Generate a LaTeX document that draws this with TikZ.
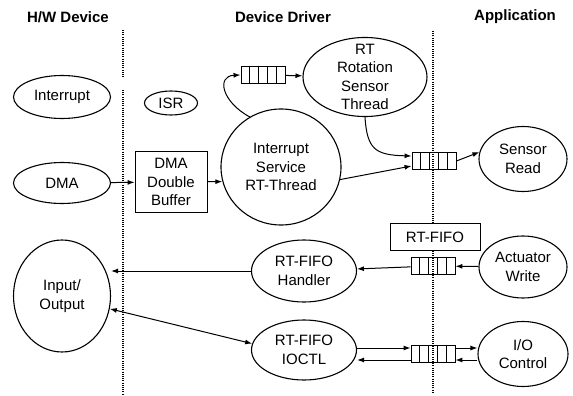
\documentclass[tikz,border=0pt]{standalone}
\usepackage{fontspec}
\setmainfont{Liberation Sans}
\usepackage{tikz}
\usetikzlibrary{arrows.meta,shapes.geometric,calc}

\tikzset{
  proc/.style={draw,ellipse,line width=1.1pt,inner sep=0pt,align=center},
  bufbox/.style={draw,rectangle,line width=0.9pt,inner sep=0pt,align=center,fill=white},
  fifo/.style={draw,rectangle,line width=0.9pt,minimum width=44pt,minimum height=17pt,inner sep=0pt,
    path picture={\foreach \k in {1,...,4}
      \draw[line width=0.9pt] ($(path picture bounding box.south west)!\k/5!(path picture bounding box.south east)$)
        -- ($(path picture bounding box.north west)!\k/5!(path picture bounding box.north east)$);}},
  layer/.style={font=\bfseries\fontsize{15}{17}\selectfont},
  border/.style={line width=1.6pt,dash pattern=on 1pt off 1.2pt},
  flow/.style={->,line width=1pt},
}

\begin{document}
\begin{tikzpicture}[x=1pt,y=1pt,>={Latex[length=7pt,width=5pt]},font=\fontsize{15}{18.5}\selectfont]
                \useasboundingbox (0,0) rectangle (573,-396);
                \node[layer] (hw) at (68,-17) {H/W Device};
                \node[layer] (drv) at (283,-17) {Device Driver};
                \node[layer] (app) at (515,-17) {Application};
                \draw[border] (123,-30) -- (123,-78);
                \draw[border] (123,-90) -- (123,-394);
                \draw[border] (433,-31) -- (433,-394);
                \node[proc,minimum width=97pt,minimum height=43pt] (intr) at (62,-97) {Interrupt};
                \node[proc,minimum width=53pt,minimum height=24pt] (isr) at (171,-103) {ISR};
                \node[proc,minimum width=97pt,minimum height=41pt] (dma) at (62,-183) {DMA};
                \node[bufbox,minimum width=72pt,minimum height=61pt] (dbuf) at (171,-182) {DMA\\Double\\Buffer};
                \node[proc,minimum width=120pt,minimum height=116pt] (isrt) at (281,-167) {Interrupt\\Service\\RT-Thread};
                \node[fifo] (q1) at (263,-75) {};
                \node[proc,minimum width=124pt,minimum height=79pt,
                      label={[align=center]center:RT\\Rotation\\Sensor\\Thread}] (rot) at (365,-77) {};
                \node[fifo] (q2) at (434,-161) {};
                \node[proc,minimum width=88pt,minimum height=65pt] (sread) at (523,-159) {Sensor\\Read};
                \node[bufbox,minimum width=90pt,minimum height=27pt] (fifolbl) at (435,-237) {RT-FIFO};
                \node[fifo] (q3) at (433,-266) {};
                \node[proc,minimum width=88pt,minimum height=62pt] (awrite) at (523,-267) {Actuator\\Write};
                \node[proc,minimum width=105pt,minimum height=62pt] (hdl) at (304,-271) {RT-FIFO\\Handler};
                \node[proc,minimum width=97pt,minimum height=112pt] (io) at (62,-296) {Input/\\Output};
                \node[proc,minimum width=105pt,minimum height=60pt] (ioctl) at (304,-350) {RT-FIFO\\IOCTL};
                \node[fifo] (q4) at (433,-354) {};
                \node[proc,minimum width=90pt,minimum height=65pt] (ioctr) at (523,-354) {I/O\\Control};
                \draw[flow] (dma) -- (dbuf);
                \draw[flow] (dbuf) -- (isrt.194);
                \draw[flow] (isrt.122) .. controls (222,-102) and (216,-76) .. (q1.west);
                \draw[flow] (q1) -- (rot);
                \draw[flow] (rot.south) .. controls (367,-150) and (376,-155) .. ([yshift=5pt]q2.west);
                \draw[flow] (isrt.-12) -- ([yshift=-5pt]q2.west);
                \draw[flow] (q2.east) -- (sread.171);
                \draw[flow] (awrite) -- (q3);
                \draw[flow] (q3) -- (hdl);
                \draw[flow] (hdl.west) -- (hdl.west -| io.east);
                \draw[flow,<->] (io.-15) -- (ioctl.173);
                \draw[flow] ([yshift=6pt]q4.west -| ioctl.east) -- ([yshift=6pt]q4.west);
                \draw[flow] ([yshift=-6pt]q4.west) -- ([yshift=-6pt]q4.west -| ioctl.east);
                \draw[flow] ([yshift=6pt]q4.east) -- ([yshift=6pt]q4.east -| ioctr.west);
                \draw[flow] ([yshift=-6pt]q4.east -| ioctr.west) -- ([yshift=-6pt]q4.east);
            \end{tikzpicture}
\end{document}
